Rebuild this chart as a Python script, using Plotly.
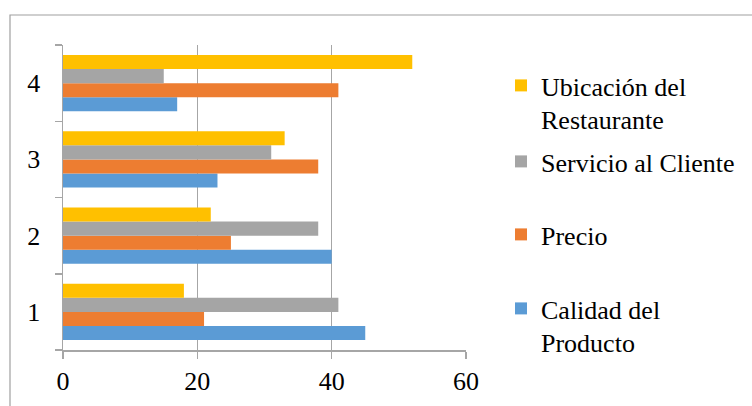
import plotly.graph_objects as go

categories = ["1", "2", "3", "4"]
series_names = ["Calidad del Producto", "Precio", "Servicio al Cliente", "Ubicación del Restaurante"]
legend_labels = ["Calidad del<br>Producto", "Precio", "Servicio al Cliente", "Ubicación del<br>Restaurante"]
calidad = [45, 40, 23, 17]
precio = [21, 25, 38, 41]
servicio = [41, 38, 31, 15]
ubicacion = [18, 22, 33, 52]
x_ticks = [0, 20, 40, 60]

values = [calidad, precio, servicio, ubicacion]
colors = ["#5B9BD5", "#ED7D31", "#A5A5A5", "#FFC000"]

W, H = 752, 406
L, R, T, B = 63, 466, 45, 350
FONT = "'Times New Roman', 'Liberation Serif', serif"

def px2paper_x(px):
    return (px - L) / (R - L)

def px2paper_y(py):
    return (B - py) / (B - T)

fig = go.Figure()
legend_names = ["legend", "legend2", "legend3", "legend4"]
for name, lab, vals, col, lg in zip(series_names, legend_labels, values, colors, legend_names):
    fig.add_trace(go.Bar(
        y=categories, x=vals, orientation="h", name=lab,
        marker=dict(color=col, line=dict(width=0)),
        legend=lg, showlegend=True,
    ))

leg_tops = {"legend": 285, "legend2": 211, "legend3": 138, "legend4": 62}
leg_left = 501
legend_layout = {}
for lg in legend_names:
    legend_layout[lg] = dict(
        x=px2paper_x(leg_left), xanchor="left",
        y=px2paper_y(leg_tops[lg]), yanchor="top",
        font=dict(family=FONT, size=26, color="#000000"),
        bgcolor="rgba(0,0,0,0)", borderwidth=0, valign="top",
        itemclick=False, itemdoubleclick=False,
    )

axis_gray = "#A6A6A6"
fig.update_layout(
    width=W, height=H,
    margin=dict(l=L, r=W - R, t=T, b=H - B, autoexpand=False),
    paper_bgcolor="white", plot_bgcolor="white",
    barmode="group", bargap=0.26, bargroupgap=0,
    font=dict(family=FONT, size=26, color="#000000"),
    xaxis=dict(
        range=[0, 60], tickvals=x_ticks, showgrid=True, gridcolor=axis_gray, gridwidth=1,
        zeroline=False, showline=True, linecolor=axis_gray, linewidth=1.5,
        ticks="outside", ticklen=7, tickcolor=axis_gray, tickwidth=1.5,
        tickfont=dict(family=FONT, size=26, color="#000000"), fixedrange=True,
    ),
    yaxis=dict(
        type="category", categoryorder="array", categoryarray=categories,
        tickson="boundaries", ticks="outside", ticklen=7, tickcolor=axis_gray, tickwidth=1.5,
        showgrid=False, showline=True, linecolor=axis_gray, linewidth=1.5,
        tickfont=dict(family=FONT, size=26, color="#000000"), ticklabelstandoff=16,
        fixedrange=True,
    ),
    shapes=[dict(
        type="rect", xref="paper", yref="paper",
        x0=px2paper_x(10), x1=px2paper_x(770),
        y0=px2paper_y(420), y1=px2paper_y(15),
        line=dict(color="#A0A0A0", width=1.2), fillcolor="rgba(0,0,0,0)", layer="below",
    )],
    **legend_layout,
)

fig.write_html(
    "out.html",
    config={"displayModeBar": False, "staticPlot": True},
    post_script="document.body.style.margin='0px';document.body.style.overflow='hidden';",
)
